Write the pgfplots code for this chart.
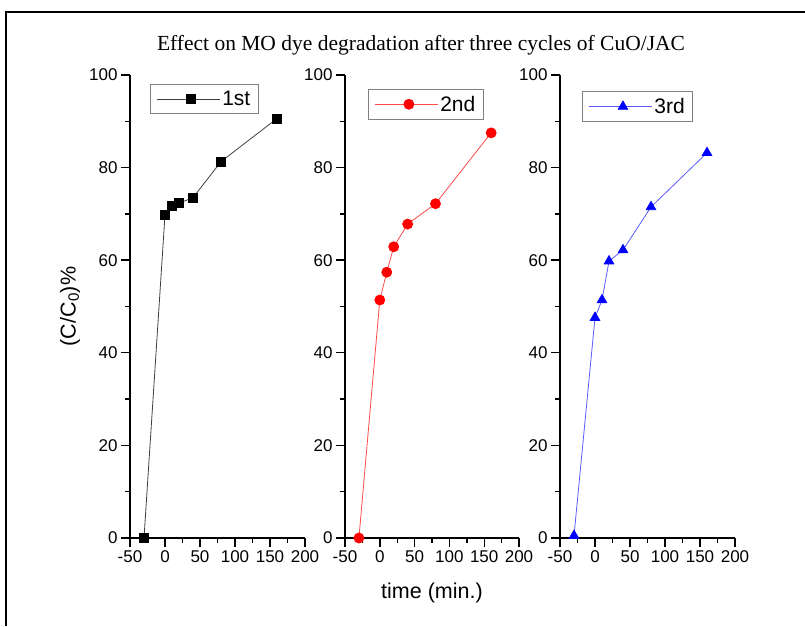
\documentclass[border=0pt]{standalone}
\usepackage{fontspec}
\setmainfont{Liberation Sans}
\newfontfamily\seriffont{Liberation Serif}
\usepackage{pgfplots}
\pgfplotsset{compat=1.18}
\definecolor{lnblack}{HTML}{404040}
\definecolor{lnred}{HTML}{FF4A4A}
\definecolor{lnblue}{HTML}{5A5AFF}
\pgfplotsset{
  mypanel/.style={
    scale only axis, width=175pt, height=463pt,
    xmin=-50, xmax=200, ymin=0, ymax=100,
    axis x line*=bottom, axis y line*=left,
    axis line style={-, line width=1.6pt, black},
    xtick={-50,0,50,100,150,200}, minor x tick num=1,
    ytick={0,20,40,60,80,100}, minor y tick num=1,
    tick align=outside, major tick length=9pt, minor tick length=5pt,
    tick style={black, line width=1.4pt},
    tick label style={font=\fontsize{17}{17}\selectfont},
    xticklabel style={inner xsep=0pt},
    /pgf/number format/assume math mode=true,
    clip=false,
    legend cell align=left,
    legend style={draw=gray, line width=1pt, font=\fontsize{21}{21}\selectfont,
      anchor=north west, inner xsep=6pt, inner ysep=4.5pt},
    legend image code/.code={\path (0pt,0pt) -- (63pt,0pt);\draw[mark repeat=2,mark phase=2] plot coordinates {(9pt,0pt)(34pt,0pt)(59pt,0pt)};},
  }
}
\begin{document}
\begin{tikzpicture}[x=1pt,y=1pt]
\useasboundingbox (0,0) rectangle (805,626);
\draw[line width=2.5pt] (6,0) -- (6,614) -- (805,614);
\node[font=\seriffont\fontsize{21.5}{21.5}\selectfont] at (421,581) {Effect on MO dye degradation after three cycles of CuO/JAC};
\begin{axis}[mypanel, at={(130pt,88pt)}, anchor=south west,
  ylabel={(C/C\textsubscript{0})\%},
  ylabel style={font=\fontsize{21.5}{21.5}\selectfont, at={(rel axis cs:-0.343,0.5)}, anchor=center},
  legend style={at={(0.114,0.98)}}]
\addplot[color=lnblack, line width=0.8pt, mark=square*, mark size=4.5pt, mark options={fill=black, draw=black, solid}]
  coordinates {(-30,0) (0,69.8) (10,71.7) (20,72.3) (40,73.5) (80,81.3) (160,90.6)};
\addlegendentry{1st}
\end{axis}
\begin{axis}[mypanel, at={(345pt,88pt)}, anchor=south west, width=174pt,
  xlabel={time (min.)},
  xlabel style={font=\fontsize{21.5}{21.5}\selectfont, at={(rel axis cs:0.5,-0.1188)}, anchor=center},
  legend style={at={(0.132,0.970)}}]
\addplot[color=lnred, line width=0.8pt, mark=*, mark size=5pt, mark options={fill=red, draw=red, solid}]
  coordinates {(-30,0) (0,51.4) (10,57.4) (20,62.9) (40,67.8) (80,72.2) (160,87.5)};
\addlegendentry{2nd}
\end{axis}
\begin{axis}[mypanel, at={(560pt,88pt)}, anchor=south west,
  legend style={at={(0.126,0.965)}}]
\addplot[color=lnblue, line width=0.8pt, mark=triangle*, mark size=5.5pt, mark options={fill=blue, draw=blue, solid}]
  coordinates {(-30,0.5) (0,47.6) (10,51.4) (20,59.8) (40,62.2) (80,71.5) (160,83.2)};
\addlegendentry{3rd}
\end{axis}
\end{tikzpicture}
\end{document}
